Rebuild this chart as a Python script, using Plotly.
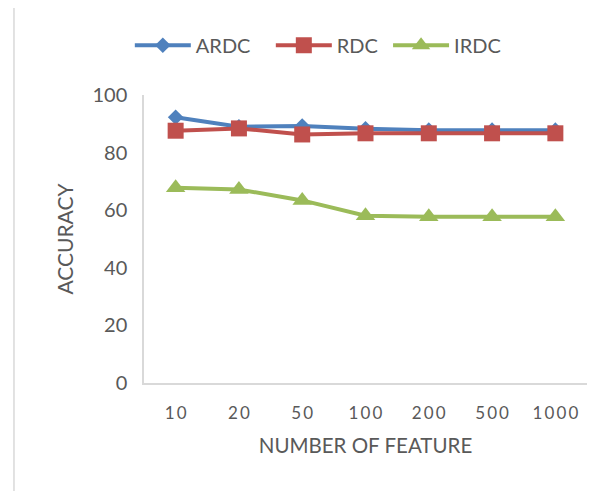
import plotly.graph_objects as go

categories = ["10", "20", "50", "100", "200", "500", "1000"]
tick_labels = ["1\u20090", "2\u20090", "5\u20090", "1\u20090\u20090", "2\u20090\u20090", "5\u20090\u20090", "1\u20090\u20090\u20090"]
series_names = ["ARDC", "RDC", "IRDC"]
ardc = [92.3, 89.0, 89.2, 88.3, 87.8, 87.8, 87.8]
rdc = [87.6, 88.4, 86.3, 86.7, 86.7, 86.7, 86.7]
irdc = [67.8, 67.2, 63.4, 58.1, 57.7, 57.7, 57.7]

FONT = "Lato"
GREY = "#595959"
NB = "\u00a0"

fig = go.Figure()
fig.add_trace(go.Scatter(x=categories, y=ardc, name=series_names[0] + NB * 3, mode="lines+markers",
                         line=dict(color="#4F81BD", width=4),
                         marker=dict(symbol="diamond", size=12, color="#4F81BD")))
fig.add_trace(go.Scatter(x=categories, y=rdc, name=series_names[1] + NB, mode="lines+markers",
                         line=dict(color="#C0504D", width=4),
                         marker=dict(symbol="square", size=16, color="#C0504D")))
fig.add_trace(go.Scatter(x=categories, y=irdc, name=series_names[2], mode="lines+markers",
                         line=dict(color="#9BBB59", width=4),
                         marker=dict(symbol="triangle-up", size=17, color="#9BBB59")))

fig.update_layout(
    width=613, height=491,
    margin=dict(l=136, r=34, t=87, b=116),
    paper_bgcolor="white", plot_bgcolor="white",
    font=dict(family=FONT, color=GREY, size=20),
    legend=dict(orientation="h", x=-0.032, xanchor="left", y=1.173, yanchor="middle",
                font=dict(size=20, color=GREY), itemwidth=56, traceorder="normal",
                bgcolor="rgba(0,0,0,0)"),
    xaxis=dict(type="category", categoryorder="array", categoryarray=categories,
               tickmode="array", tickvals=categories, ticktext=tick_labels,
               range=[-0.5, 6.5], showgrid=False, showline=True, linecolor="#d9d9d9",
               linewidth=1.5, ticks="", tickfont=dict(size=17, color=GREY),
               ticklabelstandoff=14,
               title=dict(text="NUMBER OF FEATURE", font=dict(size=20.5, color=GREY), standoff=16)),
    yaxis=dict(range=[0, 100], tickvals=[0, 20, 40, 60, 80, 100], showgrid=False,
               showline=True, linecolor="#d9d9d9", linewidth=1.5, ticks="", zeroline=False,
               tickfont=dict(size=20, color=GREY), ticklabelstandoff=11,
               title=dict(text="ACCURACY", font=dict(size=21, color=GREY), standoff=13)),
    shapes=[dict(type="rect", xref="paper", yref="paper", x0=-0.2935, x1=1.3,
                 y0=-0.6, y1=1.316, line=dict(color="#d9d9d9", width=1.5),
                 fillcolor="rgba(0,0,0,0)", layer="below")],
)

fig.write_html("out.html")
